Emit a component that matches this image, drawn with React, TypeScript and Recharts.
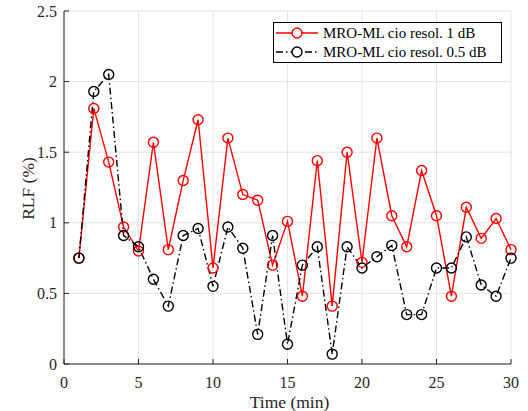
import React from 'react';
import { LineChart, Line, XAxis, YAxis, CartesianGrid } from 'recharts';

const times = [1,2,3,4,5,6,7,8,9,10,11,12,13,14,15,16,17,18,19,20,21,22,23,24,25,26,27,28,29,30];
const rlf1dB = [0.75,1.81,1.43,0.97,0.80,1.57,0.81,1.30,1.73,0.68,1.60,1.20,1.16,0.70,1.01,0.48,1.44,0.41,1.50,0.72,1.60,1.05,0.83,1.37,1.05,0.48,1.11,0.89,1.03,0.81];
const rlf05dB = [0.75,1.93,2.05,0.91,0.83,0.60,0.41,0.91,0.96,0.55,0.97,0.82,0.21,0.91,0.14,0.70,0.83,0.07,0.83,0.68,0.76,0.84,0.35,0.35,0.68,0.68,0.90,0.56,0.48,0.75];
const xTicks = [0,5,10,15,20,25,30];
const yTicks = [0,0.5,1,1.5,2,2.5];
const seriesNames = ['MRO-ML cio resol. 1 dB', 'MRO-ML cio resol. 0.5 dB'];

const data = times.map((t, i) => ({ t, a: rlf1dB[i], b: rlf05dB[i] }));

const FONT = '"Liberation Serif", "Times New Roman", serif';
const AX = '#262626';
const DASHDOT = '7 3 1.5 3';
const txt = (size: number) => ({ fontFamily: FONT, fontSize: size, fontWeight: 400 as const, fill: AX });

const BottomTick = (p: any) => (
  <g>
    <line x1={p.x} x2={p.x} y1={p.y} y2={p.y - 5} stroke={AX} strokeWidth={1} />
    <text x={p.x} y={p.y + 23.5} textAnchor="middle" style={txt(16)}>{p.payload.value}</text>
  </g>
);
const TopTick = (p: any) => (
  <line x1={p.x} x2={p.x} y1={p.y} y2={p.y + 5} stroke={AX} strokeWidth={1} />
);
const LeftTick = (p: any) => (
  <g>
    <line x1={p.x} x2={p.x + 5} y1={p.y} y2={p.y} stroke={AX} strokeWidth={1} />
    <text x={p.x - 7} y={p.y + 5.5} textAnchor="end" style={txt(16)}>{p.payload.value}</text>
  </g>
);
const RightTick = (p: any) => (
  <line x1={p.x} x2={p.x - 5} y1={p.y} y2={p.y} stroke={AX} strokeWidth={1} />
);

const LegendBox = () => (
  <svg width={528} height={411} style={{ position: 'absolute', left: 0, top: 0, pointerEvents: 'none' }}>
    <rect x={273.5} y={22.5} width={228} height={40} fill="#fff" stroke="#000" strokeWidth={1} />
    <line x1={276} x2={318} y1={33} y2={33} stroke="#ff0000" strokeWidth={1.4} />
    <circle cx={297} cy={33} r={5} fill="#fff" stroke="#ff0000" strokeWidth={1.4} />
    <text x={323} y={38} style={{ fontFamily: FONT, fontSize: 15, fill: '#000' }}>{seriesNames[0]}</text>
    <line x1={276} x2={318} y1={52} y2={52} stroke="#000" strokeWidth={1.4} strokeDasharray={DASHDOT} />
    <circle cx={297} cy={52} r={5} fill="#fff" stroke="#000" strokeWidth={1.4} />
    <text x={323} y={57} style={{ fontFamily: FONT, fontSize: 15, fill: '#000' }}>{seriesNames[1]}</text>
  </svg>
);

export default function App() {
  return (
    <div style={{ position: 'absolute', left: 0, top: 0, width: 528, height: 411, background: '#fff', fontFamily: FONT }}>
      <LineChart width={528} height={411} data={data} margin={{ top: 11, right: 17, bottom: 0, left: 0 }} style={{ fontFamily: FONT }}>
        <CartesianGrid stroke="#e3e3e3" strokeWidth={1} />
        <XAxis dataKey="t" type="number" domain={[0, 30]} ticks={xTicks} height={47}
          axisLine={{ stroke: AX }} tickLine={false} tickSize={0} tickMargin={0} tick={BottomTick}
          interval={0}
          label={{ content: (props: any) => {
            const vb = props.viewBox;
            return <text x={vb.x + vb.width / 2 + 2} y={408} textAnchor="middle" style={txt(17.5)}>Time (min)</text>;
          } }} />
        <XAxis xAxisId="top" dataKey="t" type="number" orientation="top" domain={[0, 30]} ticks={xTicks} height={0}
          axisLine={{ stroke: AX }} tickLine={false} tickSize={0} tickMargin={0} tick={TopTick} interval={0} />
        <YAxis type="number" domain={[0, 2.5]} ticks={yTicks} width={64}
          axisLine={{ stroke: AX }} tickLine={false} tickSize={0} tickMargin={0} tick={LeftTick} interval={0}
          label={{ content: (props: any) => {
            const vb = props.viewBox;
            const cy = vb.y + vb.height / 2 + 1;
            return <text x={33.5} y={cy} transform={`rotate(-90, 33.5, ${cy})`} textAnchor="middle" style={txt(17.5)}>RLF (%)</text>;
          } }} />
        <YAxis yAxisId="right" type="number" orientation="right" domain={[0, 2.5]} ticks={yTicks} width={0}
          axisLine={{ stroke: AX }} tickLine={false} tickSize={0} tickMargin={0} tick={RightTick} interval={0} />
        <Line dataKey="a" stroke="#ff0000" strokeWidth={1.4} isAnimationActive={false}
          dot={{ r: 5, fill: 'none', stroke: '#ff0000', strokeWidth: 1.4 }} activeDot={false} />
        <Line dataKey="b" stroke="#000" strokeWidth={1.4} strokeDasharray={DASHDOT} isAnimationActive={false}
          dot={{ r: 5, fill: 'none', stroke: '#000', strokeWidth: 1.4, strokeDasharray: '' }} activeDot={false} />
      </LineChart>
      <LegendBox />
    </div>
  );
}
